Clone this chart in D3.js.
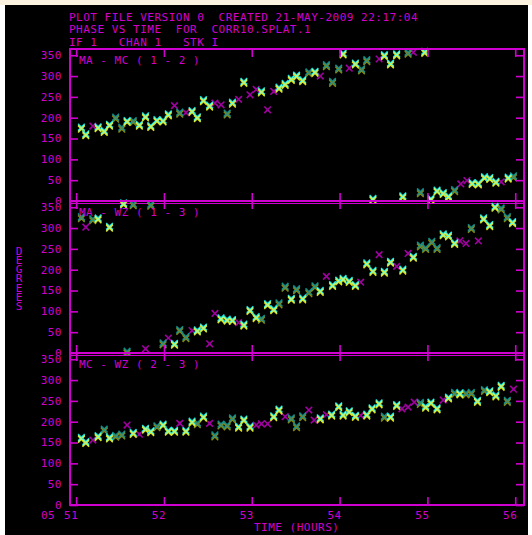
<!DOCTYPE html>
<html><head><meta charset="utf-8">
<script src="https://cdn.jsdelivr.net/npm/d3@7"></script>
<style>
html,body{margin:0;padding:0;background:#ffffff;}
svg{display:block;}
text{font-family:"DejaVu Sans Mono","Liberation Mono",monospace;font-size:11px;letter-spacing:0.5px;fill:#d000d0;white-space:pre;}
text.vert{writing-mode:vertical-rl;text-orientation:upright;letter-spacing:-3.7px;}
</style></head>
<body>
<script>
// ---- data ----
const headerLines = ["PLOT FILE VERSION 0  CREATED 21-MAY-2009 22:17:04",
                     "PHASE VS TIME  FOR  CORR10.SPLAT.1",
                     "IF 1   CHAN 1   STK I"];
const panelLabels = ["MA - MC ( 1 - 2 )", "MA - WZ ( 1 - 3 )", "MC - WZ ( 2 - 3 )"];
const yTicks = [0, 50, 100, 150, 200, 250, 300, 350];
const xTicks = [51, 52, 53, 54, 55, 56];
const xTickLabels = ["51", "52", "53", "54", "55", "56"];
const dayLabel = "05";
const yTitle = "DEGREES";
const xTitle = "TIME (HOURS)";

// series code: b = bright (yellow+cyan), d = dim (teal+olive), m = magenta
const p1Time  = [51.06,51.11,51.19,51.25,51.32,51.38,51.45,51.52,51.58,51.65,51.72,51.79,51.85,51.92,51.99,52.05,52.12,52.18,52.25,52.32,52.38,52.45,52.52,52.58,52.65,52.72,52.78,52.85,52.91,52.98,53.05,53.11,53.18,53.25,53.31,53.38,53.45,53.51,53.58,53.65,53.72,53.78,53.85,53.92,53.99,54.04,54.11,54.18,54.25,54.31,54.38,54.45,54.51,54.58,54.65,54.72,54.78,54.84,54.92,54.97,55.04,55.11,55.18,55.24,55.31,55.38,55.45,55.51,55.58,55.65,55.71,55.78,55.84,55.92,55.98];
const p1Phase = [175,159,180,176,167,182,199,175,191,191,182,202,179,193,192,207,229,211,212,215,200,241,228,235,231,209,235,244,285,255,268,262,219,263,271,280,292,300,289,308,309,300,325,285,317,353,319,329,315,337,4,341,349,329,351,10,355,357,20,357,4,24,18,10,25,41,49,42,41,56,54,45,46,55,58];
const p1Series= ["b","b","m","b","b","b","d","d","b","d","b","b","b","b","b","b","m","d","m","b","b","b","b","m","m","d","b","m","b","m","m","b","m","m","b","b","b","b","b","d","b","m","d","d","d","b","m","b","d","d","b","m","b","b","b","b","d","m","d","b","b","b","b","b","d","m","m","b","b","b","b","b","m","b","d"];

const p2Time  = [51.06,51.11,51.19,51.25,51.38,51.54,51.58,51.65,51.79,51.85,51.99,52.05,52.12,52.18,52.25,52.32,52.38,52.45,52.52,52.58,52.65,52.72,52.78,52.85,52.91,52.98,53.05,53.11,53.18,53.25,53.31,53.38,53.45,53.51,53.58,53.65,53.72,53.78,53.85,53.92,53.99,54.04,54.11,54.18,54.24,54.31,54.38,54.45,54.51,54.58,54.65,54.72,54.78,54.84,54.92,54.98,55.05,55.11,55.18,55.24,55.31,55.37,55.44,55.50,55.58,55.64,55.71,55.77,55.84,55.91,55.97];
const p2Phase = [325,302,320,322,302,358,2,356,10,355,22,36,21,54,37,54,53,60,22,95,82,79,78,73,67,102,85,81,116,104,118,158,129,152,130,145,159,148,184,162,173,177,172,162,170,214,196,236,194,218,208,199,239,230,257,251,266,251,284,281,263,269,263,299,269,322,306,350,346,325,313];
const p2Series= ["d","m","d","b","b","b","d","d","m","d","d","m","b","d","d","m","b","b","m","m","b","b","b","m","b","b","b","d","b","b","d","d","b","d","b","d","d","b","m","b","b","b","b","b","m","b","b","m","b","b","m","b","m","b","d","d","d","d","b","b","b","m","m","d","m","b","b","b","d","d","b"];

const p3Time  = [51.06,51.11,51.19,51.25,51.32,51.38,51.45,51.52,51.58,51.65,51.72,51.79,51.85,51.92,51.99,52.05,52.12,52.18,52.25,52.32,52.38,52.45,52.52,52.58,52.65,52.72,52.78,52.85,52.91,52.98,53.05,53.11,53.18,53.25,53.31,53.38,53.45,53.51,53.58,53.65,53.71,53.78,53.85,53.91,53.99,54.04,54.11,54.18,54.24,54.31,54.37,54.45,54.51,54.58,54.65,54.71,54.78,54.85,54.92,54.98,55.04,55.11,55.18,55.24,55.31,55.37,55.44,55.50,55.57,55.65,55.71,55.78,55.84,55.91,55.98];
const p3Phase = [160,150,156,164,180,161,165,168,192,172,170,182,176,188,192,177,177,196,177,199,195,211,196,166,192,190,207,187,204,187,192,195,195,212,228,212,207,188,212,228,204,207,217,216,236,216,224,213,215,216,231,243,211,211,239,231,235,247,244,235,245,231,252,257,268,267,267,268,249,275,272,262,285,249,278];
const p3Series= ["b","b","m","b","d","b","d","d","m","b","m","b","b","d","b","b","b","m","b","b","d","b","m","d","d","d","d","b","b","b","m","m","m","b","b","m","d","d","d","m","m","b","m","b","b","b","b","b","m","b","b","b","d","b","b","m","m","m","d","b","b","b","m","b","d","b","d","d","b","d","b","b","b","d","m"];

const panels = [
  {label: panelLabels[0], time: p1Time, phase: p1Phase, series: p1Series},
  {label: panelLabels[1], time: p2Time, phase: p2Phase, series: p2Series},
  {label: panelLabels[2], time: p3Time, phase: p3Phase, series: p3Series}
];

// ---- layout ----
const W = 532, H = 535;
const AX = "#d000d0";
const left = 70, right = 524;
const panelTops = [49, 201, 353];
const panelH = 152;

const svg = d3.select("body").append("svg").attr("width", W).attr("height", H);
svg.append("rect").attr("x", 0).attr("y", 0).attr("width", W).attr("height", 5).attr("fill", "#fbf3df");
svg.append("rect").attr("x", 5).attr("y", 5).attr("width", 523).attr("height", H - 5).attr("fill", "#000");

const x = d3.scaleLinear().domain([50.93, 56.10]).range([left, right]);

// header
headerLines.forEach((t, i) => {
  svg.append("text").attr("x", 69).attr("y", 16.7 + i * 12.5).attr("dy", "0.36em").text(t);
});

const seriesStyle = {
  b: [{c: "#00e0e0", dy: -1, w: 1.5}, {c: "#e0e000", dy: 1, w: 1.5}, {c: "#a8f8a0", dy: 0, w: 1.2}],
  d: [{c: "#008c8c", dy: -1, w: 1.5}, {c: "#8c8c00", dy: 1, w: 1.5}, {c: "#3f8a70", dy: 0, w: 1.2}],
  m: [{c: "#a000a0", dy: 0, w: 1.6}]
};
const xPath = (cx, cy, s) => `M${cx - s},${cy - s}L${cx + s},${cy + s}M${cx - s},${cy + s}L${cx + s},${cy - s}`;

panels.forEach((p, pi) => {
  const top = panelTops[pi], bottom = top + panelH;
  const y = d3.scaleLinear().domain([0, 365]).range([bottom, top]);
  const g = svg.append("g");

  // data points
  const clipId = "clip" + pi;
  svg.append("clipPath").attr("id", clipId).append("rect")
    .attr("x", left).attr("y", top - 3).attr("width", right - left).attr("height", panelH + 6);
  const pts = p.time.map((t, i) => ({t, v: p.phase[i], s: p.series[i]}));
  const order = {m: 0, d: 1, b: 2};
  pts.sort((a, b) => order[a.s] - order[b.s]);
  const dg = g.append("g").attr("clip-path", `url(#${clipId})`);
  pts.forEach(d => {
    seriesStyle[d.s].forEach(st => {
      dg.append("path").attr("d", xPath(x(d.t), y(d.v) + st.dy, 3.3))
        .attr("stroke", st.c).attr("stroke-width", st.w).attr("fill", "none");
    });
  });

  // frame
  g.append("rect").attr("x", left).attr("y", top).attr("width", right - left).attr("height", panelH)
    .attr("fill", "none").attr("stroke", AX).attr("stroke-width", 2);
  if (pi < 2) {
    g.append("line").attr("x1", left).attr("x2", right).attr("y1", bottom + 2.5).attr("y2", bottom + 2.5)
      .attr("stroke", AX).attr("stroke-width", 1.2);
  }

  // y ticks left and right
  const yAxisL = d3.axisRight(y).tickValues(yTicks).tickSize(8).tickFormat("");
  const yAxisR = d3.axisLeft(y).tickValues(yTicks).tickSize(8).tickFormat("");
  const gl = g.append("g").attr("transform", `translate(${left},0)`).call(yAxisL);
  const gr = g.append("g").attr("transform", `translate(${right},0)`).call(yAxisR);
  // x ticks top and bottom
  const xAxisB = d3.axisTop(x).tickValues(xTicks).tickSize(8).tickFormat("");
  const xAxisT = d3.axisBottom(x).tickValues(xTicks).tickSize(8).tickFormat("");
  const gb = g.append("g").attr("transform", `translate(0,${bottom})`).call(xAxisB);
  const gt = g.append("g").attr("transform", `translate(0,${top})`).call(xAxisT);
  [gl, gr, gb, gt].forEach(a => {
    a.select(".domain").remove();
    a.selectAll(".tick line").attr("stroke", AX).attr("stroke-width", 1.6);
  });

  // y tick labels
  yTicks.forEach(v => {
    const ty = y(v);
    if (v === 350 && pi > 0) {
      g.append("rect").attr("x", 38).attr("y", ty - 4).attr("width", 26).attr("height", 9).attr("fill", "#000");
    }
    g.append("text").attr("x", 62).attr("y", ty).attr("dy", "0.36em").attr("text-anchor", "end").text(String(v));
  });

  // panel label
  g.append("text").attr("x", 79).attr("y", top + 11).attr("dy", "0.36em").text(p.label);
});

// x tick labels
xTicks.forEach((t, i) => {
  svg.append("text").attr("x", x(t) - 5).attr("y", 515).attr("dy", "0.36em").attr("text-anchor", "middle").text(xTickLabels[i]);
});
svg.append("text").attr("x", 48).attr("y", 515).attr("dy", "0.36em").attr("text-anchor", "middle").text(dayLabel);
svg.append("text").attr("x", 254).attr("y", 527).attr("dy", "0.36em").text(xTitle);

// vertical y title: one text element, letters stacked upright
svg.append("text").attr("class", "vert")
  .attr("x", 19).attr("y", 244.5)
  .text(yTitle);
</script>
</body></html>
